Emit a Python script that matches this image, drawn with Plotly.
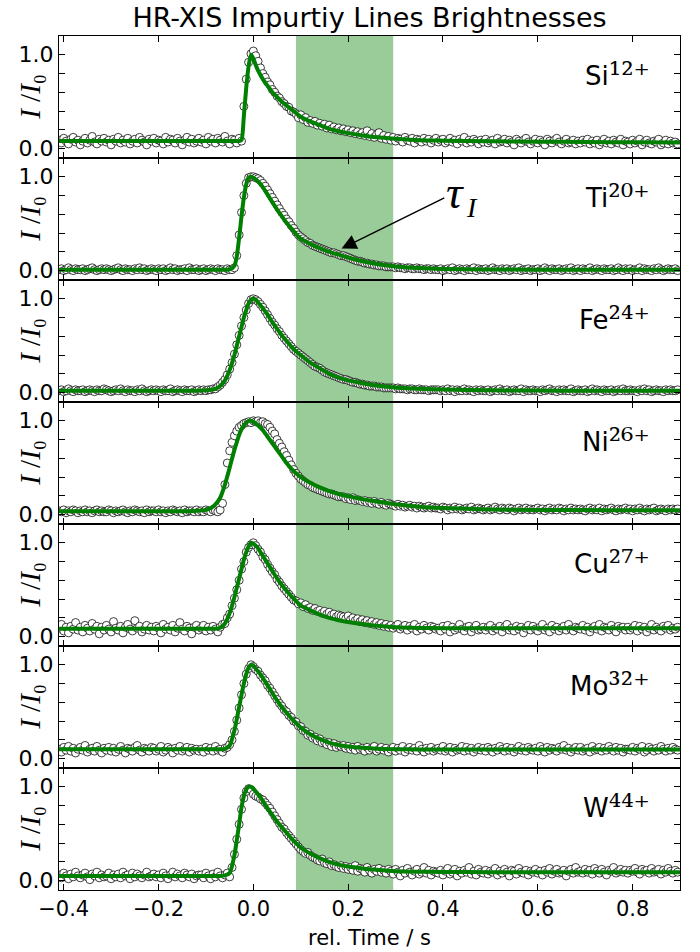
import numpy as np
import plotly.graph_objects as go
from plotly.subplots import make_subplots

# ---------------------------------------------------------------------------
# Sampling of the measured line brightness (one frame every 5 ms)
# ---------------------------------------------------------------------------
T_START = -0.41
T_STEP = 0.005

ions = ["Si", "Ti", "Fe", "Ni", "Cu", "Mo", "W"]
charges = ["12+", "20+", "24+", "26+", "27+", "32+", "44+"]

# Measured brightness, in percent of the peak value
si_meas = [
    9, 6, 11, 8, 5, 10, 12, 7, 9, 4, 8, 11, 6, 9, 13, 7, 5, 10, 8, 11,
    7, 9, 4, 10, 8, 12, 6, 9, 7, 11, 5, 8, 10, 6, 12, 9, 7, 4, 10, 8,
    11, 6, 9, 8, 5, 12, 7, 10, 9, 6, 11, 8, 4, 9, 12, 7, 10, 6, 8, 11,
    7, 9, 5, 12, 8, 10, 6, 11, 9, 7, 13, 8, 5, 10, 9, 6, 11, 8, 45, 74,
    92, 101, 104, 99, 93, 86, 80, 76, 71, 68, 63, 60, 56, 54, 50, 48, 45, 44, 40, 39,
    37, 33, 36, 31, 33, 28, 30, 27, 29, 25, 27, 24, 26, 22, 25, 21, 23, 20, 22, 19,
    21, 18, 20, 17, 19, 16, 18, 15, 17, 14, 19, 13, 16, 12, 15, 17, 11, 14, 10, 13,
    9, 12, 8, 11, 10, 7, 12, 9, 8, 11, 6, 10, 9, 7, 11, 8, 10, 6, 9, 11,
    7, 9, 10, 6, 8, 11, 7, 9, 5, 10, 8, 12, 6, 9, 7, 10, 8, 5, 9, 7,
    10, 6, 8, 9, 5, 11, 7, 8, 10, 6, 9, 7, 4, 10, 8, 6, 9, 11, 7, 5,
    8, 10, 6, 9, 7, 4, 10, 8, 6, 9, 11, 7, 5, 8, 10, 6, 7, 9, 5, 8,
    6, 9, 7, 10, 5, 8, 6, 9, 4, 7, 10, 6, 8, 5, 9, 7, 6, 10, 4, 8,
    7, 5, 9, 6, 8, 10, 4, 7, 9, 6, 5, 8, 7, 10, 4, 6, 9, 5, 8, 6,
    7, 5,
]
ti_meas = [
    1, 2, 0, 1, 3, 1, 0, 2, 1, 1, 2, 0, 1, 2, 3, 1, 0, 1, 2, 1,
    2, 1, 0, 1, 2, 3, 1, 0, 2, 1, 1, 0, 2, 1, 3, 1, 2, 0, 1, 2,
    1, 0, 2, 1, 2, 0, 1, 3, 1, 2, 0, 1, 1, 2, 0, 3, 1, 1, 2, 0,
    1, 2, 0, 1, 2, 1, 0, 2, 1, 1, 0, 2, 1, 1, 3, 16, 38, 62, 80, 93,
    99, 100, 100, 99, 98, 96, 93, 90, 86, 82, 78, 74, 70, 66, 62, 59, 55, 52, 48, 45,
    41, 38, 36, 34, 32, 30, 29, 27, 26, 25, 24, 23, 22, 21, 20, 19, 19, 18, 17, 16,
    16, 15, 14, 13, 12, 11, 10, 10, 9, 8, 8, 7, 7, 6, 6, 5, 5, 5, 4, 4,
    4, 4, 3, 4, 3, 3, 2, 3, 3, 2, 2, 3, 2, 2, 1, 2, 2, 1, 2, 1,
    1, 2, 0, 1, 2, 1, 3, 0, 1, 2, 1, 0, 2, 1, 1, 3, 0, 2, 1, 1,
    2, 0, 1, 3, 1, 1, 0, 2, 1, 2, 0, 1, 2, 1, 3, 0, 1, 1, 2, 0,
    1, 1, 2, 0, 1, 3, 1, 0, 2, 1, 1, 2, 0, 1, 2, 1, 3, 0, 1, 2,
    0, 2, 1, 1, 3, 0, 1, 2, 1, 0, 2, 1, 1, 2, 0, 1, 3, 1, 0, 2,
    1, 2, 0, 1, 1, 3, 0, 2, 1, 1, 0, 2, 1, 3, 1, 0, 1, 2, 1, 1,
    2, 0,
]
fe_meas = [
    2, 3, 1, 2, 4, 2, 1, 3, 2, 2, 3, 1, 2, 3, 2, 1, 3, 2, 2, 4,
    3, 2, 1, 2, 3, 2, 4, 2, 1, 3, 2, 2, 1, 3, 2, 4, 2, 1, 2, 3,
    2, 3, 2, 1, 3, 2, 2, 4, 1, 2, 3, 2, 1, 3, 2, 2, 3, 1, 2, 3,
    2, 3, 2, 3, 3, 4, 4, 6, 8, 11, 14, 19, 25, 32, 41, 51, 61, 71, 80, 88,
    95, 99, 100, 99, 97, 94, 91, 87, 83, 79, 75, 72, 68, 65, 61, 58, 55, 52, 49, 46,
    44, 42, 40, 38, 36, 34, 32, 30, 28, 27, 26, 24, 22, 21, 20, 19, 18, 17, 16, 15,
    14, 14, 13, 12, 11, 11, 10, 9, 9, 8, 8, 7, 7, 7, 6, 6, 6, 5, 5, 5,
    5, 5, 4, 5, 4, 4, 4, 3, 4, 4, 3, 3, 4, 3, 3, 3, 2, 3, 3, 3,
    3, 2, 3, 2, 4, 2, 3, 1, 3, 2, 2, 4, 2, 3, 2, 1, 3, 2, 3, 2,
    2, 3, 1, 2, 3, 2, 4, 2, 2, 3, 1, 2, 3, 2, 2, 4, 1, 3, 2, 2,
    3, 2, 2, 1, 3, 2, 3, 4, 2, 2, 1, 3, 2, 3, 2, 2, 4, 1, 2, 3,
    2, 2, 3, 1, 2, 4, 2, 3, 2, 1, 3, 2, 2, 3, 1, 2, 3, 2, 4, 2,
    2, 3, 2, 2, 1, 3, 2, 4, 2, 3, 1, 2, 3, 2, 2, 1, 3, 2, 3, 2,
    2, 3,
]
ni_meas = [
    4, 3, 5, 2, 4, 3, 5, 4, 2, 4, 3, 5, 3, 4, 2, 4, 5, 3, 4, 3,
    3, 5, 4, 2, 4, 3, 4, 5, 3, 2, 4, 3, 5, 4, 3, 4, 2, 5, 3, 4,
    4, 3, 5, 3, 4, 2, 4, 3, 5, 4, 3, 4, 2, 5, 3, 4, 4, 3, 5, 3,
    4, 3, 5, 4, 3, 5, 4, 3, 5, 12, 32, 55, 68, 77, 84, 89, 93, 95, 97, 98,
    99, 98, 100, 99, 100, 98, 99, 97, 96, 93, 89, 86, 80, 76, 72, 67, 63, 58, 53, 48,
    44, 41, 38, 36, 34, 32, 31, 29, 28, 27, 26, 25, 24, 23, 22, 22, 21, 20, 19, 19,
    19, 17, 18, 16, 18, 15, 16, 15, 14, 15, 13, 14, 12, 14, 12, 11, 13, 11, 10, 12,
    11, 10, 9, 11, 9, 10, 8, 9, 10, 8, 9, 7, 9, 8, 7, 8, 9, 7, 8, 7,
    7, 6, 8, 7, 5, 7, 6, 8, 6, 7, 5, 6, 7, 6, 8, 5, 6, 7, 6, 5,
    6, 7, 5, 6, 8, 6, 5, 7, 6, 5, 7, 6, 4, 6, 7, 5, 6, 7, 5, 6,
    5, 6, 7, 5, 6, 4, 6, 7, 5, 6, 5, 7, 6, 4, 6, 5, 7, 5, 6, 5,
    6, 5, 4, 6, 7, 5, 6, 5, 7, 4, 6, 5, 6, 7, 5, 4, 6, 5, 6, 7,
    5, 6, 4, 6, 5, 7, 5, 4, 6, 5, 6, 7, 4, 5, 6, 5, 4, 6, 5, 6,
    5, 6,
]
cu_meas = [
    9, 13, 6, 10, 4, 11, 8, 15, 7, 10, 5, 12, 9, 6, 14, 8, 11, 3, 10, 7,
    12, 8, 5, 16, 9, 7, 11, 4, 10, 13, 8, 6, 17, 9, 11, 5, 8, 12, 7, 10,
    6, 11, 9, 4, 13, 8, 10, 7, 12, 5, 9, 15, 8, 6, 11, 9, 3, 10, 12, 7,
    9, 12, 6, 10, 7, 11, 8, 5, 10, 13, 14, 20, 24, 33, 41, 50, 60, 72, 80, 90,
    95, 98, 100, 97, 93, 90, 85, 82, 77, 73, 69, 66, 61, 58, 54, 51, 48, 45, 42, 39,
    38, 35, 36, 32, 34, 30, 31, 28, 30, 27, 28, 25, 27, 24, 26, 23, 24, 21, 23, 22,
    21, 19, 22, 18, 20, 17, 19, 16, 18, 15, 17, 14, 16, 13, 15, 12, 14, 11, 13, 10,
    12, 9, 11, 13, 8, 10, 12, 7, 11, 9, 13, 6, 10, 8, 12, 9, 7, 11, 10, 8,
    9, 6, 11, 8, 12, 5, 10, 7, 9, 13, 8, 6, 10, 11, 5, 9, 12, 7, 8, 10,
    7, 10, 12, 6, 9, 8, 11, 5, 10, 13, 7, 9, 6, 11, 8, 10, 4, 9, 12, 7,
    11, 8, 6, 10, 13, 7, 9, 5, 12, 8, 10, 6, 9, 11, 7, 13, 8, 6, 10, 9,
    8, 12, 7, 10, 5, 9, 11, 8, 13, 6, 10, 9, 7, 12, 8, 5, 11, 9, 10, 7,
    10, 7, 9, 12, 6, 11, 8, 10, 5, 9, 13, 7, 10, 8, 6, 11, 9, 12, 7, 9,
    8, 10,
]
mo_meas = [
    10, 7, 12, 9, 13, 8, 11, 6, 10, 12, 9, 14, 7, 10, 11, 8, 13, 9, 6, 11,
    9, 12, 8, 11, 7, 10, 13, 9, 6, 11, 10, 8, 12, 14, 9, 7, 11, 10, 8, 12,
    11, 8, 10, 13, 7, 9, 12, 10, 6, 11, 9, 13, 8, 10, 12, 7, 11, 9, 10, 8,
    10, 7, 12, 9, 11, 8, 13, 9, 10, 7, 11, 12, 15, 20, 29, 41, 54, 68, 80, 90,
    96, 100, 98, 95, 93, 89, 86, 83, 78, 75, 71, 67, 63, 59, 56, 52, 50, 46, 44, 40,
    39, 35, 34, 30, 29, 25, 26, 22, 23, 19, 21, 17, 18, 15, 17, 13, 16, 12, 14, 13,
    14, 11, 13, 10, 12, 9, 13, 10, 11, 8, 12, 9, 11, 13, 8, 10, 12, 9, 11, 7,
    10, 12, 8, 11, 9, 13, 7, 10, 12, 9, 11, 8, 14, 10, 7, 11, 9, 12, 8, 10,
    11, 9, 13, 8, 10, 12, 7, 11, 9, 10, 13, 8, 12, 9, 11, 7, 10, 12, 9, 11,
    8, 12, 10, 7, 11, 9, 13, 10, 8, 12, 9, 11, 7, 10, 13, 9, 11, 8, 12, 10,
    9, 11, 8, 13, 10, 7, 12, 9, 11, 10, 8, 12, 10, 14, 9, 11, 7, 10, 12, 9,
    12, 8, 10, 11, 7, 13, 9, 10, 12, 8, 11, 9, 13, 10, 8, 12, 9, 11, 7, 10,
    10, 9, 12, 8, 11, 10, 13, 7, 9, 12, 10, 8, 11, 9, 13, 10, 8, 11, 9, 12,
    10, 9,
]
w_meas = [
    6, 3, 8, 5, 2, 7, 4, 9, 5, 3, 6, 8, 4, 1, 7, 5, 9, 3, 6, 4,
    5, 8, 2, 6, 4, 7, 3, 9, 5, 6, 2, 8, 4, 7, 5, 3, 6, 9, 4, 5,
    7, 4, 6, 3, 8, 5, 2, 6, 9, 4, 7, 5, 3, 8, 6, 4, 7, 2, 5, 6,
    6, 3, 8, 5, 2, 7, 4, 9, 5, 3, 6, 8, 4, 14, 28, 44, 60, 76, 88, 95,
    98, 97, 92, 90, 89, 87, 86, 83, 80, 77, 73, 69, 65, 61, 57, 55, 51, 48, 45, 42,
    39, 36, 33, 31, 29, 30, 27, 25, 24, 22, 21, 23, 19, 18, 20, 16, 17, 15, 14, 16,
    13, 15, 12, 14, 11, 16, 10, 13, 12, 9, 14, 11, 8, 12, 10, 13, 9, 11, 8, 12,
    10, 7, 12, 9, 5, 11, 8, 13, 9, 6, 10, 12, 7, 9, 14, 8, 11, 6, 10, 9,
    8, 11, 6, 10, 13, 7, 9, 12, 5, 10, 8, 11, 9, 14, 7, 10, 6, 12, 9, 8,
    11, 7, 10, 9, 13, 6, 10, 8, 12, 9, 5, 11, 10, 7, 13, 9, 8, 11, 6, 10,
    9, 12, 8, 10, 6, 11, 9, 13, 7, 10, 12, 8, 9, 11, 5, 10, 12, 8, 14, 9,
    10, 8, 12, 9, 11, 7, 13, 10, 8, 12, 9, 6, 11, 10, 14, 8, 10, 12, 9, 11,
    8, 11, 10, 13, 9, 7, 12, 10, 11, 8, 13, 9, 10, 12, 7, 11, 9, 13, 10, 8,
    11, 9,
]

# ---------------------------------------------------------------------------
# Fitted model curves (normalised), evaluated on a shared time grid
# ---------------------------------------------------------------------------
fit_time = [
    -0.41, -0.30, -0.20, -0.15, -0.12, -0.10, -0.09, -0.08, -0.07, -0.06,
    -0.05, -0.04, -0.035, -0.03, -0.025, -0.02, -0.015, -0.01, -0.005, 0.0,
    0.005, 0.01, 0.02, 0.03, 0.04, 0.05, 0.06, 0.07, 0.08, 0.09,
    0.10, 0.12, 0.14, 0.16, 0.18, 0.20, 0.23, 0.26, 0.30, 0.35,
    0.40, 0.50, 0.60, 0.70, 0.80, 0.90,
]
si_fit = [
    0.08, 0.08, 0.08, 0.08, 0.08, 0.08, 0.08, 0.08, 0.08, 0.08,
    0.08, 0.08, 0.08, 0.08, 0.09, 0.35, 0.65, 0.88, 1.0, 0.96,
    0.89, 0.83, 0.74, 0.67, 0.6, 0.55, 0.5, 0.46, 0.42, 0.38,
    0.34, 0.29, 0.25, 0.21, 0.185, 0.165, 0.14, 0.12, 0.105, 0.09,
    0.085, 0.078, 0.074, 0.07, 0.067, 0.065,
]
ti_fit = [
    0.01, 0.01, 0.01, 0.01, 0.01, 0.01, 0.01, 0.01, 0.01, 0.01,
    0.012, 0.05, 0.15, 0.35, 0.58, 0.78, 0.92, 0.99, 1.0, 0.99,
    0.97, 0.95, 0.89, 0.81, 0.73, 0.65, 0.58, 0.51, 0.45, 0.39,
    0.34, 0.285, 0.24, 0.2, 0.17, 0.14, 0.1, 0.07, 0.045, 0.027,
    0.018, 0.012, 0.01, 0.01, 0.01, 0.01,
]
fe_fit = [
    0.02, 0.02, 0.02, 0.02, 0.02, 0.025, 0.03, 0.04, 0.07, 0.13,
    0.24, 0.4, 0.5, 0.6, 0.7, 0.8, 0.88, 0.95, 0.99, 1.0,
    0.99, 0.96, 0.9, 0.83, 0.75, 0.68, 0.61, 0.55, 0.49, 0.44,
    0.4, 0.32, 0.26, 0.2, 0.16, 0.13, 0.1, 0.075, 0.055, 0.04,
    0.032, 0.025, 0.022, 0.02, 0.02, 0.02,
]
ni_fit = [
    0.035, 0.035, 0.035, 0.035, 0.04, 0.05, 0.07, 0.11, 0.18, 0.32,
    0.5, 0.69, 0.77, 0.85, 0.91, 0.95, 0.98, 1.0, 1.0, 0.99,
    0.97, 0.95, 0.9, 0.83, 0.76, 0.69, 0.62, 0.55, 0.49, 0.44,
    0.4, 0.34, 0.29, 0.25, 0.22, 0.195, 0.165, 0.14, 0.11, 0.085,
    0.07, 0.055, 0.05, 0.048, 0.047, 0.046,
]
cu_fit = [
    0.085, 0.085, 0.085, 0.085, 0.085, 0.085, 0.085, 0.085, 0.095, 0.14,
    0.25, 0.42, 0.52, 0.62, 0.72, 0.82, 0.9, 0.96, 1.0, 0.99,
    0.97, 0.94, 0.86, 0.78, 0.7, 0.62, 0.55, 0.49, 0.43, 0.38,
    0.33, 0.28, 0.235, 0.2, 0.175, 0.155, 0.135, 0.115, 0.1, 0.093,
    0.09, 0.088, 0.088, 0.088, 0.088, 0.088,
]
mo_fit = [
    0.1, 0.1, 0.1, 0.1, 0.1, 0.1, 0.1, 0.1, 0.1, 0.105,
    0.14, 0.3, 0.42, 0.55, 0.68, 0.8, 0.9, 0.97, 1.0, 0.99,
    0.96, 0.93, 0.86, 0.78, 0.7, 0.62, 0.55, 0.49, 0.43, 0.38,
    0.33, 0.26, 0.21, 0.17, 0.145, 0.13, 0.115, 0.105, 0.1, 0.098,
    0.098, 0.098, 0.098, 0.098, 0.098, 0.098,
]
w_fit = [
    0.05, 0.05, 0.05, 0.05, 0.05, 0.05, 0.05, 0.05, 0.05, 0.055,
    0.08, 0.27, 0.43, 0.6, 0.78, 0.9, 0.97, 1.0, 1.0, 0.98,
    0.95, 0.92, 0.85, 0.77, 0.7, 0.63, 0.57, 0.51, 0.45, 0.4,
    0.35, 0.29, 0.24, 0.2, 0.17, 0.15, 0.13, 0.115, 0.1, 0.095,
    0.092, 0.09, 0.09, 0.09, 0.09, 0.09,
]

measured = [si_meas, ti_meas, fe_meas, ni_meas, cu_meas, mo_meas, w_meas]
fitted = [si_fit, ti_fit, fe_fit, ni_fit, cu_fit, mo_fit, w_fit]

# Integration window used for the confinement time
window = (0.09, 0.295)

x_ticks = [-0.4, -0.2, 0.0, 0.2, 0.4, 0.6, 0.8]
x_tick_text = ["\u22120.4", "\u22120.2", "0.0", "0.2", "0.4", "0.6", "0.8"]
y_ticks = [0.0, 1.0]
y_tick_text = ["0.0", "1.0"]

SANS = "DejaVu Sans"
SERIF = "Liberation Serif"
FIT_GREEN = "#008000"

# charge states written with Unicode superscript glyphs
SUPERSCRIPT = str.maketrans("0123456789+", "\u2070\u00b9\u00b2\u00b3\u2074\u2075\u2076\u2077\u2078\u2079\u207a")

n_rows = len(ions)
fig = make_subplots(rows=n_rows, cols=1, shared_xaxes=True, vertical_spacing=0)

for r in range(n_rows):
    vals = np.asarray(measured[r], dtype=float) / 100.0
    t = T_START + T_STEP * np.arange(len(vals))
    fig.add_trace(
        go.Scatter(
            x=t, y=vals, mode="markers",
            marker=dict(symbol="circle", size=8, color="white",
                        line=dict(color="black", width=0.75)),
            showlegend=False, hoverinfo="skip",
        ),
        row=r + 1, col=1,
    )
    fig.add_trace(
        go.Scatter(
            x=fit_time, y=fitted[r], mode="lines",
            line=dict(color=FIT_GREEN, width=4, shape="spline", smoothing=0.6),
            showlegend=False, hoverinfo="skip",
        ),
        row=r + 1, col=1,
    )

fig.update_xaxes(
    range=[-0.41, 0.9], tickvals=x_ticks, ticktext=x_tick_text,
    ticks="inside", ticklen=6, tickwidth=1, tickcolor="black",
    showline=True, linecolor="black", linewidth=1, mirror="ticks",
    showgrid=False, zeroline=False, automargin=False,
    tickfont=dict(family=SANS, size=21, color="black"),
)
fig.update_xaxes(
    showticklabels=True, row=n_rows, col=1,
    title=dict(text="rel. Time / s", font=dict(family=SANS, size=21, color="black"),
               standoff=10),
)
fig.update_yaxes(
    range=[-0.1, 1.2], tickvals=y_ticks, ticktext=y_tick_text,
    ticks="inside", ticklen=6, tickwidth=1, tickcolor="black",
    minor=dict(tick0=0, dtick=0.2, ticks="inside", ticklen=6, tickwidth=1,
               tickcolor="black", showgrid=False),
    showline=True, linecolor="black", linewidth=1, mirror="ticks",
    showgrid=False, zeroline=False, automargin=False,
    tickfont=dict(family=SANS, size=22, color="black"),
)

# Highlighted time window across all panels
fig.add_shape(
    type="rect", xref="x", yref="paper",
    x0=window[0], x1=window[1], y0=0, y1=1,
    fillcolor="#99cc99", line=dict(width=0), layer="below",
)

annotations = []
for r in range(n_rows):
    k = "" if r == 0 else str(r + 1)
    annotations.append(dict(
        xref="paper", yref=f"y{k} domain", x=-0.047, y=0.5,
        xanchor="center", yanchor="middle", textangle=-90, showarrow=False,
        text="<i>I</i> /<i>I</i>\u2080",
        font=dict(family=f"{SERIF}, DejaVu Serif", size=29, color="black"),
    ))
    sup = charges[r].translate(SUPERSCRIPT)
    annotations.append(dict(
        xref=f"x{k}", yref=f"y{k}", x=0.84, y=0.8,
        xanchor="right", yanchor="middle", showarrow=False,
        text=(f"{ions[r]}<span style='font-family:DejaVu Serif;font-size:31px'>"
              f"{sup}</span>"),
        font=dict(family=SANS, size=26, color="black"),
    ))

# Decay-time marker in the Ti panel
annotations.append(dict(
    xref="x2", yref="y2", x=0.186, y=0.235,
    axref="x2", ayref="y2", ax=0.425, ay=0.83,
    text="<i>\u03c4</i>",
    font=dict(family=SERIF, size=46, color="black"),
    showarrow=True, arrowhead=2, arrowsize=2, arrowwidth=1.5, arrowcolor="black",
    standoff=0,
))
annotations.append(dict(
    xref="x2", yref="y2", x=0.462, y=0.67,
    xanchor="center", yanchor="middle", showarrow=False,
    text="<i>I</i>",
    font=dict(family=SERIF, size=28, color="black"),
))

fig.update_layout(
    width=700, height=952,
    margin=dict(l=59, r=20, t=36, b=62, autoexpand=False),
    paper_bgcolor="white", plot_bgcolor="white",
    title=dict(text="HR-XIS Impurtiy Lines Brightnesses", x=0.5, xref="paper",
               y=1 - 18 / 952, yanchor="middle",
               font=dict(family=SANS, size=27, color="black")),
    annotations=annotations,
    showlegend=False,
)

fig.write_html("out.html")
